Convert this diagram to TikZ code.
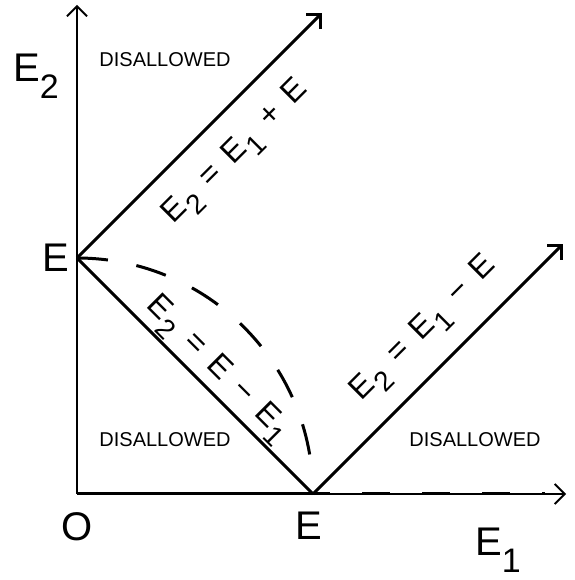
\documentclass[tikz,border=0pt]{standalone}
\usepackage{fontspec}
\setmainfont{Liberation Sans}
\usetikzlibrary{arrows.meta}
\newcommand{\lowsub}[1]{\raisebox{-17pt}{\fontsize{34}{34}\selectfont #1}}
\newcommand{\linesub}[1]{\kern1pt\raisebox{-11pt}{\fontsize{28}{28}\selectfont #1}}
\newcommand{\opgap}{\hspace{14pt}}

\begin{document}
\begin{tikzpicture}[x=1pt,y=1pt,
  axis/.style={line width=1.8pt,-{Straight Barb[length=10pt,width=20pt]}},
  bound/.style={line width=3pt},
  big/.style={font=\fontsize{40}{40}\selectfont,inner sep=0pt},
  eqn/.style={font=\fontsize{32}{32}\selectfont,inner sep=0pt,anchor=base},
  small/.style={font=\fontsize{20}{20}\selectfont,inner sep=0pt}]
\useasboundingbox (-77,-86) rectangle (497,494);
\coordinate (O) at (0,0);
\coordinate (Ey) at (0,236);
\coordinate (Ex) at (236,0);
\coordinate (Ytip) at (0,489);
\coordinate (Xtip) at (489,0);
\coordinate (Utip) at (245,481);
\coordinate (Rtip) at (486,250);
\coordinate (Xend) at (468,0);

% axes
\draw[axis] (O)--(Ytip);
\draw[axis] (O)--(Xtip);

% boundaries
\draw[bound] (O)--(Ex);
\draw[bound,dash pattern=on 28pt off 32pt,dash phase=11pt] (Ex)--(Xend);
\draw[bound,-{Straight Barb[length=10pt,width=20pt]}] (Ey)--(Utip);
\draw[bound] (Ey)--(Ex);
\draw[bound,-{Straight Barb[length=10pt,width=20pt]}] (Ex)--(Rtip);
\draw[bound,dash pattern=on 31pt off 29pt] (Ey) arc[start angle=90,end angle=3,radius=236];

% axis labels
\node[big] (Olab) at (0,-33) {O};
\node[big] (Exlab) at (232,-32) {E};
\node[big] (Eylab) at (-21,236) {E};
\node[big,anchor=base west] (E2lab) at (-64,412) {E\lowsub{2}};
\node[big,anchor=base west] (E1lab) at (398,-61) {E\lowsub{1}};

% line labels
\node[eqn,rotate=45] (upperlab) at (164,336.4) {E\linesub{2}\opgap=\opgap E\linesub{1}\opgap+\opgap E};
\node[eqn,rotate=-45] (lowerlab) at (136.2,120.2) {E\linesub{2}\opgap=\opgap E\opgap−\opgap E\linesub{1}};
\node[eqn,rotate=45] (rightlab) at (352.3,160.2) {E\linesub{2}\opgap=\opgap E\linesub{1}\opgap−\opgap E};

% regions
\node[small] (dis1) at (88,434) {DISALLOWED};
\node[small] (dis2) at (88,54) {DISALLOWED};
\node[small] (dis3) at (398,54) {DISALLOWED};
\end{tikzpicture}
\end{document}
